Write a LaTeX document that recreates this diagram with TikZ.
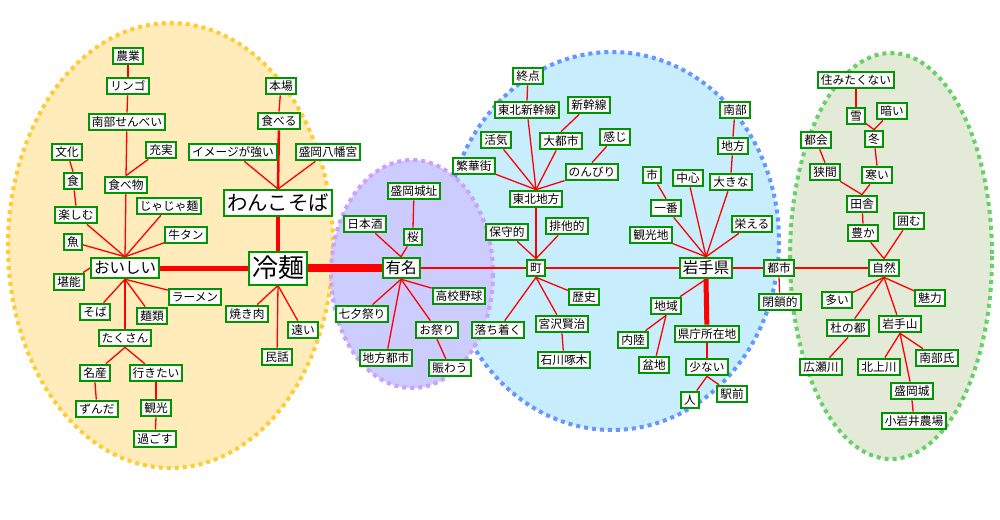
\documentclass[tikz,border=0pt]{standalone}
\usepackage{fontspec}
\newfontfamily\jp{Noto Sans CJK JP}
\definecolor{boxgreen}{RGB}{0,150,0}
\definecolor{edgered}{RGB}{255,0,0}
\definecolor{yfill}{RGB}{255,236,186}
\definecolor{ydot}{RGB}{255,204,51}
\definecolor{pfill}{RGB}{204,204,255}
\definecolor{pdot}{RGB}{204,160,255}
\definecolor{bfill}{RGB}{200,237,252}
\definecolor{bdot}{RGB}{102,150,255}
\definecolor{gfill}{RGB}{227,234,216}
\definecolor{gdot}{RGB}{102,210,102}
\pgfdeclarelayer{bg}
\pgfdeclarelayer{edges}
\pgfsetlayers{bg,edges,main}
\tikzset{
  bx/.style={draw=boxgreen, line width=2pt, fill=white, inner xsep=3pt, inner ysep=2.5pt,
    font=\jp\fontsize{11.7}{14}\selectfont, text height=10.3pt, text depth=1.4pt},
  mbx/.style={bx, font=\jp\fontsize{15.5}{18}\selectfont, text height=13.6pt, text depth=1.9pt},
  bbx/.style={bx, inner ysep=2.8pt, font=\jp\fontsize{20.4}{24}\selectfont, text height=18pt, text depth=2.4pt},
  hbx/.style={bx, inner ysep=3.5pt, font=\jp\fontsize{26}{30}\selectfont, text height=22.9pt, text depth=3.1pt},
  edge/.style={draw=edgered, line width=1.3pt},
  dotted ring/.style={line width=4pt, dash pattern=on 4pt off 4pt}
}
\begin{document}
\begin{tikzpicture}[x=1pt,y=-1pt]
\useasboundingbox (0,0) rectangle (1000,519);
\begin{pgfonlayer}{bg}
\fill[white] (0,0) rectangle (1000,519);
\draw[fill=bfill, draw=bdot, dotted ring] (612,241) ellipse [x radius=167, y radius=189];
\draw[fill=gfill, draw=gdot, dotted ring] (891,256) ellipse [x radius=101, y radius=203];
\draw[fill=yfill, draw=ydot, dotted ring] (170.5,245.5) ellipse [x radius=162.5, y radius=222.5];
\draw[fill=pfill, draw=pdot, dotted ring] (412,274) ellipse [x radius=81, y radius=114];
\end{pgfonlayer}
% left cluster
\node[bx] (n1) at (128,56) {農業};
\node[bx] (n2) at (128,86) {リンゴ};
\node[bx] (n3) at (127,122) {南部せんべい};
\node[bx] (bunka) at (67,152) {文化};
\node[bx] (jujitsu) at (161,150) {充実};
\node[bx] (shoku) at (73,181) {食};
\node[bx] (tabemono) at (126,185) {食べ物};
\node[bx] (jaja) at (169,206) {じゃじゃ麺};
\node[bx] (tanoshimu) at (76,215) {楽しむ};
\node[bx] (gyutan) at (186,235) {牛タン};
\node[bx] (sakana) at (73,242) {魚};
\node[bx] (honba) at (281,86) {本場};
\node[bx] (taberu) at (279,121) {食べる};
\node[bx] (image) at (233,152) {イメージが強い};
\node[bx] (hachiman) at (328,152) {盛岡八幡宮};
\node[bbx] (wanko) at (278,203) {わんこそば};
\node[mbx] (oishii) at (125,268) {おいしい};
\node[hbx] (reimen) at (278,268) {冷麺};
\node[bx] (tanno) at (69,282) {堪能};
\node[bx] (ramen) at (195,297) {ラーメン};
\node[bx] (soba) at (95,312) {そば};
\node[bx] (menrui) at (152,316) {麺類};
\node[bx] (yakiniku) at (247,314) {焼き肉};
\node[bx] (tooi) at (303,330) {遠い};
\node[bx] (takusan) at (125,338) {たくさん};
\node[bx] (minwa) at (277,357) {民話};
\node[bx] (meisan) at (95,373) {名産};
\node[bx] (ikitai) at (156,373) {行きたい};
\node[bx] (zunda) at (97,409) {ずんだ};
\node[bx] (kanko) at (156,408) {観光};
\node[bx] (sugosu) at (155,439) {過ごす};
% purple
\node[bx] (joshi) at (414,191) {盛岡城址};
\node[bx] (nihonshu) at (365,224) {日本酒};
\node[bx] (sakura) at (413,237) {桜};
\node[mbx] (yumei) at (401,268) {有名};
\node[bx] (koko) at (459,296) {高校野球};
\node[bx] (tanabata) at (362,314) {七夕祭り};
\node[bx] (omatsuri) at (437,330) {お祭り};
\node[bx] (chihotoshi) at (386,358) {地方都市};
\node[bx] (nigiwau) at (450,368) {賑わう};
% blue
\node[bx] (shuten) at (528,76) {終点};
\node[bx] (tshin) at (527,110) {東北新幹線};
\node[bx] (shinkansen) at (589,105) {新幹線};
\node[bx] (kakki) at (496,140) {活気};
\node[bx] (daitoshi) at (561,141) {大都市};
\node[bx] (kanji) at (615,137) {感じ};
\node[bx] (hankagai) at (474,166) {繁華街};
\node[bx] (nonbiri) at (592,172) {のんびり};
\node[bx] (tohoku) at (536,199) {東北地方};
\node[bx] (hoshu) at (507,232) {保守的};
\node[bx] (haita) at (567,226) {排他的};
\node[bx] (machi) at (536,268) {町};
\node[bx] (rekishi) at (584,297) {歴史};
\node[bx] (ochitsuku) at (498,330) {落ち着く};
\node[bx] (miyazawa) at (562,324) {宮沢賢治};
\node[bx] (ishikawa) at (564,360) {石川啄木};
\node[bx] (nanbu) at (735,110) {南部};
\node[bx] (chiho) at (733,146) {地方};
\node[bx] (shi) at (652,175) {市};
\node[bx] (chushin) at (688,178) {中心};
\node[bx] (ookina) at (731,182) {大きな};
\node[bx] (ichiban) at (666,208) {一番};
\node[bx] (sakaeru) at (752,224) {栄える};
\node[bx] (kankochi) at (651,235) {観光地};
\node[mbx] (iwate) at (706,268) {岩手県};
\node[bx] (toshi) at (779,268) {都市};
\node[bx] (heisa) at (780,302) {閉鎖的};
\node[bx] (chiiki) at (666,306) {地域};
\node[bx] (kencho) at (707,334) {県庁所在地};
\node[bx] (nairiku) at (633,340) {内陸};
\node[bx] (bonchi) at (654,365) {盆地};
\node[bx] (sukunai) at (707,367) {少ない};
\node[bx] (hito) at (690,400) {人};
\node[bx] (ekimae) at (732,394) {駅前};
% green
\node[bx] (suminaku) at (856,80) {住みたくない};
\node[bx] (yuki) at (856,116) {雪};
\node[bx] (kurai) at (892,111) {暗い};
\node[bx] (fuyu) at (874,139) {冬};
\node[bx] (tokai) at (816,140) {都会};
\node[bx] (hazama) at (825,172) {狭間};
\node[bx] (samui) at (877,175) {寒い};
\node[bx] (inaka) at (862,204) {田舎};
\node[bx] (kakomu) at (909,221) {囲む};
\node[bx] (yutaka) at (863,233) {豊か};
\node[bx] (shizen) at (884,268) {自然};
\node[bx] (ooi) at (837,300) {多い};
\node[bx] (miryoku) at (930,298) {魅力};
\node[bx] (mori) at (848,328) {杜の都};
\node[bx] (iwatesan) at (900,324) {岩手山};
\node[bx] (hirose) at (821,367) {広瀬川};
\node[bx] (kitakami) at (879,367) {北上川};
\node[bx] (nanbushi) at (937,358) {南部氏};
\node[bx] (moriokajo) at (912,391) {盛岡城};
\node[bx] (koiwai) at (914,421) {小岩井農場};
\begin{pgfonlayer}{edges}
\foreach \c in {sakana,tanoshimu,tabemono,jaja,gyutan} \draw[edge] (oishii.north) -- (\c);
\draw[edge] (tanoshimu.north) -- (shoku);
\draw[edge] (shoku.north) -- (bunka);
\draw[edge] (tabemono.north) -- (n3);
\draw[edge] (tabemono.north) -- (jujitsu);
\draw[edge] (n3.north) -- (n2);
\draw[edge] (n2.north) -- (n1);
\draw[edge] (oishii.west) -- (tanno);
\foreach \c in {soba,menrui,ramen,takusan} \draw[edge] (oishii.south) -- (\c);
\draw[edge] (takusan.south) -- (meisan);
\draw[edge] (takusan.south) -- (ikitai);
\draw[edge] (meisan.south) -- (zunda);
\draw[edge] (ikitai.south) -- (kanko);
\draw[edge] (kanko.south) -- (sugosu);
\draw[edge, line width=5pt] (reimen.west) -- (oishii);
\draw[edge, line width=3.3pt] (reimen.north) -- (wanko);
\draw[edge] (wanko.north) -- (image);
\draw[edge] (wanko.north) -- (hachiman);
\draw[edge, line width=2.5pt] (wanko.north) -- (taberu);
\draw[edge] (taberu.north) -- (honba);
\foreach \c in {yakiniku,tooi,minwa} \draw[edge] (reimen.south) -- (\c);
\draw[edge, line width=7.7pt] (reimen.east) -- (yumei);
\draw[edge] (yumei.north) -- (nihonshu);
\draw[edge] (yumei.north) -- (sakura);
\draw[edge] (sakura.north) -- (joshi);
\foreach \c in {tanabata,chihotoshi,koko,omatsuri} \draw[edge] (yumei.south) -- (\c);
\draw[edge] (omatsuri.south) -- (nigiwau);
\draw[edge] (yumei.east) -- (machi);
\foreach \c in {hoshu,haita,tohoku} \draw[edge] (machi.north) -- (\c);
\foreach \c in {tshin,kakki,hankagai,daitoshi,nonbiri} \draw[edge] (tohoku.north) -- (\c);
\draw[edge] (tshin.north) -- (shuten);
\draw[edge] (daitoshi.north) -- (shinkansen);
\draw[edge] (nonbiri.north) -- (kanji);
\foreach \c in {rekishi,ochitsuku,miyazawa} \draw[edge] (machi.south) -- (\c);
\draw[edge] (miyazawa.south) -- (ishikawa);
\draw[edge] (machi.east) -- (iwate);
\foreach \c in {kankochi,ichiban,chushin,ookina,sakaeru} \draw[edge] (iwate.north) -- (\c);
\draw[edge] (ichiban.north) -- (shi);
\draw[edge] (ookina.north) -- (chiho);
\draw[edge] (chiho.north) -- (nanbu);
\draw[edge] (iwate.south) -- (chiiki);
\draw[edge, line width=5pt] (iwate.south) -- (kencho);
\draw[edge] (chiiki.south) -- (nairiku);
\draw[edge] (chiiki.south) -- (bonchi);
\draw[edge] (kencho.south) -- (sukunai);
\draw[edge] (sukunai.south) -- (hito);
\draw[edge] (sukunai.south) -- (ekimae);
\draw[edge] (iwate.east) -- (toshi);
\draw[edge] (toshi.south) -- (heisa);
\draw[edge] (toshi.east) -- (shizen);
\draw[edge] (shizen.north) -- (yutaka);
\draw[edge] (shizen.north) -- (kakomu);
\draw[edge] (yutaka.north) -- (inaka);
\draw[edge] (inaka.north) -- (hazama);
\draw[edge] (inaka.north) -- (samui);
\draw[edge] (hazama.north) -- (tokai);
\draw[edge] (samui.north) -- (fuyu);
\draw[edge] (fuyu.north) -- (yuki);
\draw[edge] (fuyu.north) -- (kurai);
\draw[edge] (yuki.north) -- (suminaku);
\foreach \c in {ooi,mori,iwatesan,miryoku} \draw[edge] (shizen.south) -- (\c);
\draw[edge] (mori.south) -- (hirose);
\foreach \c in {kitakami,nanbushi,moriokajo} \draw[edge] (iwatesan.south) -- (\c);
\draw[edge] (moriokajo.south) -- (koiwai);
\end{pgfonlayer}
\end{tikzpicture}
\end{document}
